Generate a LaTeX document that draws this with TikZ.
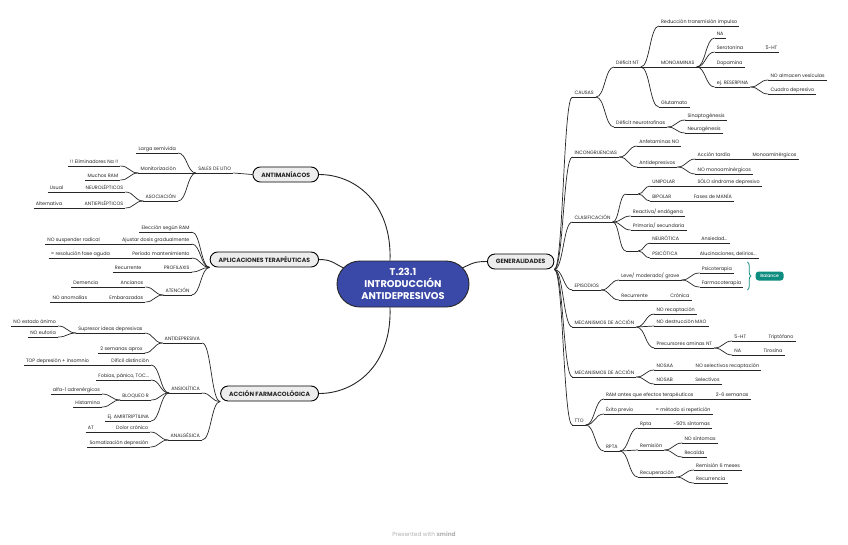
\documentclass[tikz,border=0pt]{standalone}
\usepackage{fontspec}
\setmainfont{Poppins}[UprightFont=* Medium, BoldFont=* Bold]
\newfontfamily\regfont{Poppins}
\usetikzlibrary{calc,decorations.pathreplacing}
\definecolor{lc}{HTML}{262626}
\definecolor{rootblue}{HTML}{3A48A8}
\definecolor{balteal}{HTML}{0E8C7F}
\definecolor{mainfill}{HTML}{EDEDED}
\tikzset{
  ln/.style={draw=lc, line width=0.7pt},
  mln/.style={draw=lc, line width=0.9pt},
  tp/.style={font=\regfont\fontsize{4.85}{5}\selectfont, text=lc, inner xsep=2pt, inner ysep=1pt,
    text height=3.6pt, text depth=1pt,
    append after command={(\tikzlastnode.south west) edge[ln] (\tikzlastnode.south east)}},
  cv/.style={to path={let \p1=(\tikztostart), \p2=(\tikztotarget) in
    .. controls ({0.5*\x1+0.5*\x2},\y1) and ({0.5*\x1+0.5*\x2},\y2) .. (\tikztotarget)}},
  mainbox/.style={draw=black, line width=0.9pt, fill=mainfill, rounded corners=7.5pt,
    minimum height=15pt, inner xsep=8.5pt, inner ysep=0pt,
    font=\bfseries\fontsize{6.1}{6.5}\selectfont, text=lc},
  balbox/.style={fill=balteal, rounded corners=3pt, minimum height=9pt, minimum width=28pt,
    inner xsep=3pt, inner ysep=0pt, text=white, font=\fontsize{4.5}{5}\selectfont},
}
% right-side topic: name, parent, y centre, text
\newcommand\RT[4]{\path let \p1=(#2.south east) in node[tp,anchor=south west] (#1) at (\x1+18pt,{-(#3+4)*1pt}) {#4};
  \draw[ln] (#2.south east) to[cv] (#1.south west);}
% left-side topic
\newcommand\LT[4]{\path let \p1=(#2.south west) in node[tp,anchor=south east] (#1) at (\x1-18pt,{-(#3+4)*1pt}) {#4};
  \draw[ln] (#2.south west) to[cv] (#1.south east);}
\begin{document}
\begin{tikzpicture}[x=1pt,y=-1pt]
\useasboundingbox (0,0) rectangle (848,544);
\fill[white] (0,0) rectangle (848,544);

% central topic
\node[draw=black!85, line width=0.9pt, fill=rootblue, rounded corners=23pt, minimum width=132pt,
  minimum height=46pt, text=white, font=\bfseries\fontsize{9.8}{11.8}\selectfont, align=center, inner sep=0pt]
  (root) at (403,284) {T.23.1\\INTRODUCCIÓN\\ANTIDEPRESIVOS};

% main branches
\node[mainbox, anchor=east] (anti) at (319,174.5) {ANTIMANÍACOS};
\node[mainbox, anchor=east] (aplic) at (319,259.5) {APLICACIONES TERAPÉUTICAS};
\node[mainbox, anchor=east] (accion) at (319,393.5) {ACCIÓN FARMACOLÓGICA};
\node[mainbox, anchor=west] (gen) at (487,261.5) {GENERALIDADES};

\draw[mln] ([xshift=-13pt]root.north) .. controls +(2,-58) and +(36,0) .. (anti.east);
\draw[mln] ([xshift=-13pt]root.south) .. controls +(2,58) and +(36,0) .. (accion.east);
\draw[mln] ([shift={(7pt,16pt)}]root.west) .. controls +(-10,-5) and +(12,0) .. (aplic.east);
\draw[mln] ([shift={(-7pt,16pt)}]root.east) .. controls +(10,-5) and +(-12,0) .. (gen.west);

% ================= RIGHT: GENERALIDADES =================
\RT{c1}{gen}{93}{CAUSAS}
\RT{c2}{gen}{153}{INCONGRUENCIAS}
\RT{c3}{gen}{218}{CLASIFICACIÓN}
\RT{c4}{gen}{286}{EPISODIOS}
\RT{c5}{gen}{323}{MECANISMOS DE ACCIÓN}
\RT{c6}{gen}{373}{MECANISMOS DE ACCIÓN}
\RT{c7}{gen}{421}{TTO}

\RT{c1a}{c1}{63}{Déficit NT}
\RT{c1b}{c1}{123}{Déficit neurotrofinas}
\RT{c1a1}{c1a}{22}{Reducción transmisión impulso}
\RT{c1a2}{c1a}{63}{MONOAMINAS}
\RT{c1a3}{c1a}{103}{Glutamato}
\RT{m1}{c1a2}{34}{NA}
\RT{m2}{c1a2}{48}{Serotonina}
\RT{m3}{c1a2}{63}{Dopamina}
\RT{m4}{c1a2}{83}{ej. RESERPINA}
\RT{m2a}{m2}{48}{5-HT}
\RT{m4a}{m4}{76}{NO almacen vesículas}
\RT{m4b}{m4}{90}{Cuadro depresivo}
\RT{c1b1}{c1b}{116}{Sinaptogénesis}
\RT{c1b2}{c1b}{129}{Neurogénesis}

\RT{c2a}{c2}{142}{Anfetaminas NO}
\RT{c2b}{c2}{163}{Antidepresivos}
\RT{c2b1}{c2b}{155}{Acción tardía}
\RT{c2b2}{c2b}{170}{NO monoaminérgicos}
\RT{c2b1a}{c2b1}{155}{Monoaminérgicos}

% CLASIFICACIÓN with two empty topics
\path let \p1=(c3.south east) in node[tp,anchor=south west,minimum width=12pt] (e1) at (\x1+13pt,-194pt) {};
\draw[ln] (c3.south east) to[cv] (e1.south west);
\RT{c3b}{c3}{212}{Reactiva/ endógena}
\RT{c3c}{c3}{226}{Primaria/ secundaria}
\path let \p1=(c3.south east) in node[tp,anchor=south west,minimum width=12pt] (e2) at (\x1+13pt,-251pt) {};
\draw[ln] (c3.south east) to[cv] (e2.south west);
\path let \p1=(e1.south east) in node[tp,anchor=south west] (u1) at (\x1+12pt,-186pt) {UNIPOLAR};
\draw[ln] (e1.south east) to[cv] (u1.south west);
\path let \p1=(e1.south east) in node[tp,anchor=south west] (u2) at (\x1+12pt,-201pt) {BIPOLAR};
\draw[ln] (e1.south east) to[cv] (u2.south west);
\path let \p1=(e2.south east) in node[tp,anchor=south west] (n1) at (\x1+12pt,-243pt) {NEURÓTICA};
\draw[ln] (e2.south east) to[cv] (n1.south west);
\path let \p1=(e2.south east) in node[tp,anchor=south west] (n2) at (\x1+12pt,-258pt) {PSICÓTICA};
\draw[ln] (e2.south east) to[cv] (n2.south west);
\RT{u1a}{u1}{182}{SÓLO síndrome depresivo}
\RT{u2a}{u2}{197}{Fases de MANÍA}
\RT{n1a}{n1}{239}{Ansiedad...}
\RT{n2a}{n2}{254}{Alucinaciones, delirios...}

\RT{c4a}{c4}{276}{Leve/ moderado/ grave}
\RT{c4b}{c4}{296}{Recurrente}
\RT{psi}{c4a}{269}{Psicoterapia}
\RT{farm}{c4a}{283}{Farmacoterapia}
\RT{c4b1}{c4b}{296}{Crónica}
\draw[balteal, line width=0.8pt, decorate, decoration={brace, amplitude=3.5pt}]
  let \p1=(farm.south east) in (\x1+4pt,-262pt) -- (\x1+4pt,-290pt) coordinate[pos=0.5] (bmid);
\node[balbox, anchor=west] (bal) at ([xshift=8pt]bmid) {Balance};

\RT{c5a}{c5}{310}{NO recaptación}
\RT{c5b}{c5}{322}{NO destrucción MAO}
\RT{c5c}{c5}{344}{Precursores aminas NT}
\RT{p1}{c5c}{337}{5-HT}
\RT{p2}{c5c}{351}{NA}
\RT{p1a}{p1}{337}{Triptófano}
\RT{p2a}{p2}{351}{Tirosina}

\RT{c6a}{c6}{366}{NOSAA}
\RT{c6b}{c6}{380}{NOSAB}
\RT{c6a1}{c6a}{366}{NO selectivos recaptación}
\RT{c6b1}{c6b}{380}{Selectivos}

\RT{t1}{c7}{395}{RAM antes que efectos terapéuticos}
\RT{t2}{c7}{410}{Éxito previo}
\RT{t3}{c7}{447}{RPTA}
\RT{t1a}{t1}{395}{2-6 semanas}
\RT{t2a}{t2}{410}{= método si repetición}
\RT{r1}{t3}{424}{Rpta}
\RT{r2}{t3}{446}{Remisión}
\RT{r3}{t3}{473}{Recuperación}
\RT{r1a}{r1}{424}{-50\% síntomas}
\RT{r2a}{r2}{439}{NO síntomas}
\RT{r2b}{r2}{453}{Recaída}
\RT{r3a}{r3}{466}{Remisión 6 meses}
\RT{r3b}{r3}{479}{Recurrencia}

% ================= LEFT: ANTIMANÍACOS =================
\path let \p1=(anti.west) in node[tp,anchor=south east] (s) at (\x1-19pt,-173pt) {SALES DE LITIO};
\draw[ln] (anti.west) to[cv] (s.south east);
\LT{s1}{s}{149}{Larga semivida}
\LT{s2}{s}{169}{Monitorización}
\LT{s3}{s}{197}{ASOCIACIÓN}
\LT{s2a}{s2}{162}{!! Eliminadores Na !!}
\LT{s2b}{s2}{176}{Muchos RAM}
\LT{s3a}{s3}{188}{NEUROLÉPTICOS}
\LT{s3b}{s3}{204}{ANTIEPILÉPTICOS}
\LT{s3a1}{s3a}{188}{Usual}
\LT{s3b1}{s3b}{204}{Alternativa}

% ================= LEFT: APLICACIONES =================
\LT{ap1}{aplic}{228}{Elección según RAM}
\LT{ap2}{aplic}{240}{Ajustar dosis gradualmente}
\LT{ap3}{aplic}{254}{Periodo mantenimiento}
\LT{ap4}{aplic}{268}{PROFILAXIS}
\LT{ap5}{aplic}{291}{ATENCIÓN}
\LT{ap2a}{ap2}{240}{NO suspender radical}
\LT{ap3a}{ap3}{254}{= resolución fase aguda}
\LT{ap4a}{ap4}{268}{Recurrente}
\LT{ap5a}{ap5}{283}{Ancianos}
\LT{ap5b}{ap5}{298}{Embarazadas}
\LT{ap5a1}{ap5a}{283}{Demencia}
\LT{ap5b1}{ap5b}{298}{NO anomalías}

% ================= LEFT: ACCIÓN FARMACOLÓGICA =================
\LT{f1}{accion}{339}{ANTIDEPRESIVA}
\LT{f2}{accion}{389}{ANSIOLÍTICA}
\LT{f3}{accion}{436}{ANALGÉSICA}
\LT{f1a}{f1}{329}{Supresor ideas depresivas}
\LT{f1b}{f1}{349}{2 semanas aprox}
\LT{f1a1}{f1a}{322}{NO estado ánimo}
\LT{f1a2}{f1a}{333}{NO euforia}
\LT{f2a}{f2}{361}{Difícil distinción}
\LT{f2b}{f2}{376}{Fobias, pánico, TOC...}
\LT{f2c}{f2}{396}{BLOQUEO R}
\LT{f2d}{f2}{417}{Ej. AMIRTRIPTILINA}
\LT{f2a1}{f2a}{361}{TOP depresión + insomnio}
\LT{f2c1}{f2c}{390}{alfa-1 adrenérgicos}
\LT{f2c2}{f2c}{403}{Histamina}
\LT{f3a}{f3}{428}{Dolor crónico}
\LT{f3b}{f3}{443}{Somatización depresión}
\LT{f3a1}{f3a}{428}{AT}

% footer
\node[font=\regfont\fontsize{5.8}{6}\selectfont, text=black!30] (foot) at (424,534) {Presented with {\bfseries xmind}};
\end{tikzpicture}
\end{document}
